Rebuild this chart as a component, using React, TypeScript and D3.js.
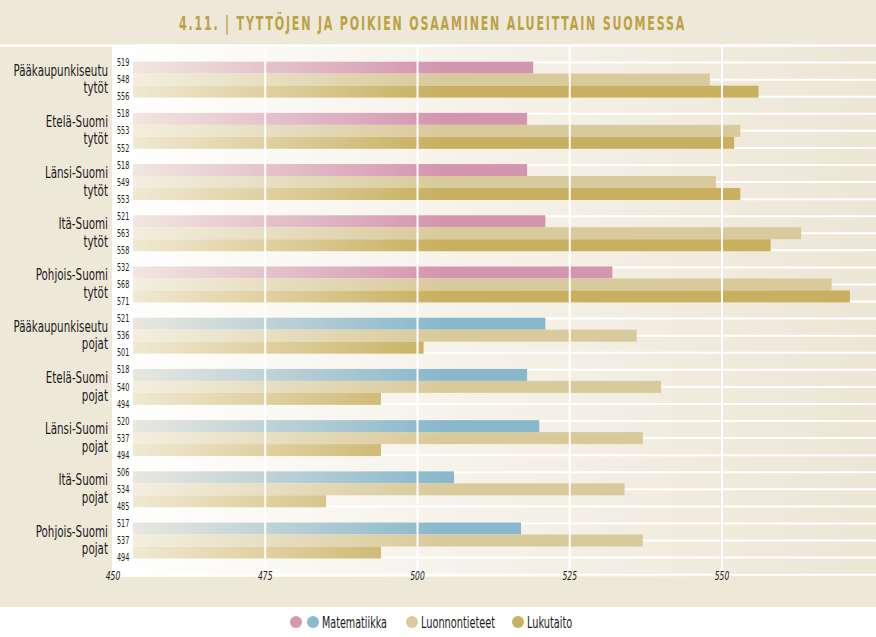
import React from "react";
import * as d3 from "d3";

const regions = ["Pääkaupunkiseutu", "Etelä-Suomi", "Länsi-Suomi", "Itä-Suomi", "Pohjois-Suomi"];
const genders = ["tytöt", "pojat"];
const girlsMath = [519, 518, 518, 521, 532];
const girlsScience = [548, 553, 549, 563, 568];
const girlsReading = [556, 552, 553, 558, 571];
const boysMath = [521, 518, 520, 506, 517];
const boysScience = [536, 540, 537, 534, 537];
const boysReading = [501, 494, 494, 485, 494];
const ticks = [450, 475, 500, 525, 550];
const legendLabels = ["Matematiikka", "Luonnontieteet", "Lukutaito"];
const title = "4.11. | TYTTÖJEN JA POIKIEN OSAAMINEN ALUEITTAIN SUOMESSA";

const W = 876;
const H = 637;
const FONT = "'DejaVu Sans', sans-serif";

const groups = [
  ...regions.map((r, i) => ({ region: r, gender: genders[0], values: [girlsMath[i], girlsScience[i], girlsReading[i]] })),
  ...regions.map((r, i) => ({ region: r, gender: genders[1], values: [boysMath[i], boysScience[i], boysReading[i]] })),
];

function CText(props: any) {
  const { x, y, sx = 0.68, children, ...rest } = props;
  return (
    <text transform={`translate(${x},${y}) scale(${sx},1)`} x={0} y={0} fontFamily={FONT} {...rest}>
      {children}
    </text>
  );
}

export default function App() {
  const panelLeft = 112;
  const panelTop = 45.5;
  const panelBottom = 577;
  const rowStep = 17.07;
  const barStart = 133;
  const barH = 12;

  const x = d3.scaleLinear().domain([450, 550]).range([113, 722]);
  const rowY = (j: number) => panelTop + j * rowStep;
  const lineIdx = d3.range(0, 32);

  const fills = ["url(#gMathG)", "url(#gSci)", "url(#gRead)"];
  const fillsBoys = ["url(#gMathB)", "url(#gSci)", "url(#gRead)"];

  return (
    <svg width={W} height={H} style={{ display: "block", position: "absolute", left: 0, top: 0 }}>
      <defs>
        <linearGradient id="panelBg" x1="0" x2="1" y1="0" y2="0">
          <stop offset="0" stopColor="#ffffff" />
          <stop offset="0.35" stopColor="#f8f5ee" />
          <stop offset="1" stopColor="#ede6d6" />
        </linearGradient>
        <linearGradient id="gMathG" gradientUnits="userSpaceOnUse" x1={barStart} x2={440} y1="0" y2="0">
          <stop offset="0" stopColor="#f1e6e1" />
          <stop offset="1" stopColor="#d495af" />
        </linearGradient>
        <linearGradient id="gMathB" gradientUnits="userSpaceOnUse" x1={barStart} x2={440} y1="0" y2="0">
          <stop offset="0" stopColor="#e9e7df" />
          <stop offset="1" stopColor="#89b8cc" />
        </linearGradient>
        <linearGradient id="gSci" gradientUnits="userSpaceOnUse" x1={barStart} x2={440} y1="0" y2="0">
          <stop offset="0" stopColor="#f3eedf" />
          <stop offset="1" stopColor="#d9ca9b" />
        </linearGradient>
        <linearGradient id="gRead" gradientUnits="userSpaceOnUse" x1={barStart} x2={440} y1="0" y2="0">
          <stop offset="0" stopColor="#f0e9d2" />
          <stop offset="1" stopColor="#c8b060" />
        </linearGradient>
      </defs>

      <rect x={0} y={0} width={W} height={607} fill="#eee8d9" />
      <rect x={0} y={607} width={W} height={H - 607} fill="#ffffff" />

      <CText
        x={432.5}
        y={30}
        sx={0.552}
        textAnchor="middle"
        fontWeight="bold"
        fontSize={20}
        letterSpacing={3.3}
        fill="#bba243"
      >
        {title}
      </CText>

      <rect x={panelLeft} y={panelTop} width={W - panelLeft} height={panelBottom - panelTop} fill="url(#panelBg)" />
      <line x1={0} x2={W} y1={panelTop} y2={panelTop} stroke="#ffffff" strokeWidth={2} />

      {lineIdx.map((j) => (
        <line key={"h" + j} x1={barStart} x2={W} y1={rowY(j)} y2={rowY(j)} stroke="#ffffff" strokeWidth={2} />
      ))}

      {groups.map((g, gi) => {
        const center = rowY(gi * 3 + 2);
        const top = center - (barH * 3) / 2;
        const f = gi < 5 ? fills : fillsBoys;
        return (
          <g key={"g" + gi}>
            {g.values.map((v, k) => (
              <rect key={k} x={barStart} y={top + k * barH} width={x(v) - barStart} height={barH} fill={f[k]} />
            ))}
            {g.values.map((v, k) => (
              <CText key={"t" + k} x={117} y={rowY(gi * 3 + 1 + k) + 3.6} sx={0.66} fontSize={9.8} fill="#222">
                {v}
              </CText>
            ))}
            <CText x={108} y={center - 4} sx={0.69} textAnchor="end" fontSize={15} fill="#1a1a1a">
              {g.region}
            </CText>
            <CText x={108} y={center + 13.6} sx={0.69} textAnchor="end" fontSize={15} fill="#1a1a1a">
              {g.gender}
            </CText>
          </g>
        );
      })}

      {ticks.slice(1).map((t) => (
        <line key={"v" + t} x1={x(t)} x2={x(t)} y1={panelTop} y2={panelBottom} stroke="#ffffff" strokeWidth={2} />
      ))}

      {ticks.map((t) => (
        <CText key={"tl" + t} x={x(t)} y={580} sx={0.66} textAnchor="middle" fontStyle="italic" fontSize={11.5} fill="#222">
          {t}
        </CText>
      ))}

      <circle cx={296} cy={622} r={6} fill="#d697b0" />
      <circle cx={313} cy={622} r={6} fill="#8abacd" />
      <CText x={322} y={627.5} sx={0.62} fontSize={15.5} fill="#1a1a1a">{legendLabels[0]}</CText>
      <circle cx={412} cy={622} r={6} fill="#dccc9c" />
      <CText x={421} y={627.5} sx={0.63} fontSize={15.5} fill="#1a1a1a">{legendLabels[1]}</CText>
      <circle cx={518} cy={622} r={6} fill="#c9b262" />
      <CText x={527} y={627.5} sx={0.63} fontSize={15.5} fill="#1a1a1a">{legendLabels[2]}</CText>
    </svg>
  );
}
